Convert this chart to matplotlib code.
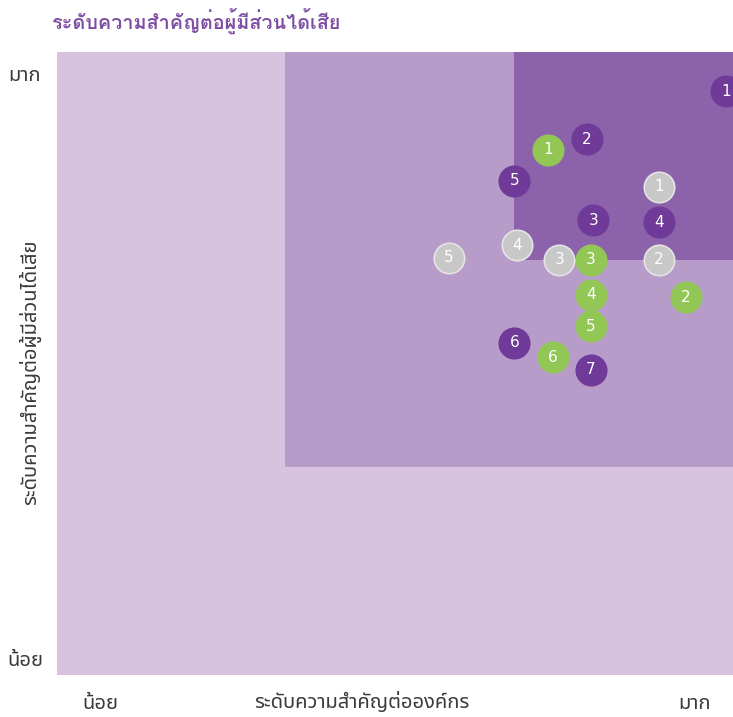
import matplotlib
matplotlib.use("Agg")
import matplotlib.pyplot as plt
import matplotlib.patches as mpatches

# zones (0-3 on both axes): lower-left corner of each shaded block
zone_x = [0, 1.01, 2.03]
zone_y = [0, 1, 2]
zone_colors = ["#d7c3e0", "#b79bc9", "#8c63aa"]

# purple group
purple_x = [2.97, 2.35, 2.03, 2.38, 2.67, 2.03, 2.37]
purple_y = [2.81, 2.58, 2.38, 2.19, 2.18, 1.60, 1.47]
purple_lbl = ["1", "2", "5", "3", "4", "6", "7"]

# green group
green_x = [2.18, 2.79, 2.37, 2.37, 2.37, 2.20]
green_y = [2.53, 1.82, 2.00, 1.83, 1.68, 1.53]
green_lbl = ["1", "2", "3", "4", "5", "6"]

# grey group
grey_x = [2.67, 2.67, 2.23, 2.04, 1.74]
grey_y = [2.35, 2.00, 2.00, 2.07, 2.01]
grey_lbl = ["1", "2", "3", "4", "5"]

title = "ระดับความสำคัญต่อผู้มีส่วนได้เสีย"
xlab = "ระดับความสำคัญต่อองค์กร"
ylab = "ระดับความสำคัญต่อผู้มีส่วนได้เสีย"
low, high = "น้อย", "มาก"

thai_thin = ["Noto Sans Thai", "DejaVu Sans"]
thai_bold = ["Loma", "DejaVu Sans"]

fig = plt.figure(figsize=(7.33, 7.17), dpi=100)
ax = fig.add_axes([57 / 733, 42 / 717, 676 / 733, 623 / 717])
ax.set_xlim(0, 3)
ax.set_ylim(0, 3)
for i in range(3):
    ax.add_patch(mpatches.Rectangle((zone_x[i], zone_y[i]), 3 - zone_x[i], 3 - zone_y[i],
                                    facecolor=zone_colors[i], edgecolor="none", zorder=1))

def draw(xs, ys, lbls, fc, ec):
    ax.scatter(xs, ys, s=480, c=fc, edgecolors=ec, linewidths=1.2, zorder=3)
    for x, y, t in zip(xs, ys, lbls):
        ax.text(x, y, t, color="white", fontsize=11, ha="center", va="center", zorder=4)

draw(purple_x, purple_y, purple_lbl, "#6f3a98", "#6f3a98")
draw(green_x, green_y, green_lbl, "#92c756", "#92c756")
draw(grey_x, grey_y, grey_lbl, "#c8c8c8", "#e4e4e4")

ax.set_xticks([])
ax.set_yticks([])
for s in ax.spines.values():
    s.set_visible(False)

txt = dict(family=thai_thin, fontweight="light", fontsize=14.5, color="#3a3a3a",
           ha="center", va="center")
fig.text(52 / 733, 1 - 21 / 717, title, family=thai_bold, fontweight="bold",
         fontsize=14.3, color="#7f4fa3", ha="left", va="center")
fig.text(25 / 733, 1 - 76 / 717, high, **txt)
fig.text(25 / 733, 1 - 661 / 717, low, **txt)
fig.text(30 / 733, 1 - 372 / 717, ylab, rotation=90, **txt)
fig.text(100 / 733, 1 - 704 / 717, low, **txt)
fig.text(362 / 733, 1 - 703 / 717, xlab, **txt)
fig.text(694 / 733, 1 - 704 / 717, high, **txt)

fig.savefig("out.png", dpi=100)
